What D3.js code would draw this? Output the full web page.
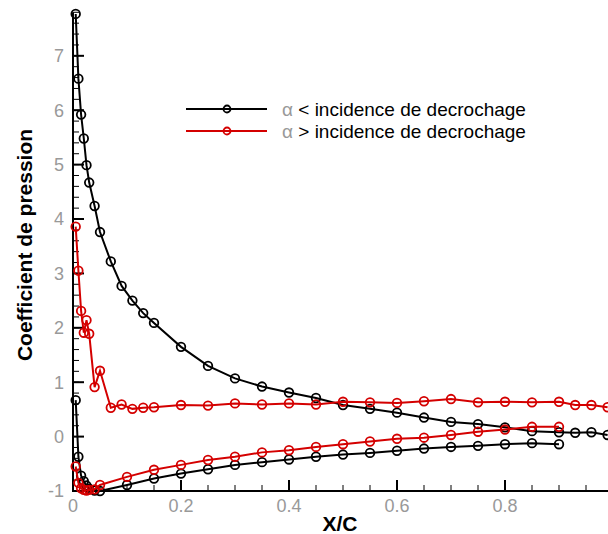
<!DOCTYPE html>
<html>
<head>
<meta charset="utf-8">
<script src="https://cdn.jsdelivr.net/npm/d3@7"></script>
<style>
  body { margin: 0; background: #fff; }
  svg { display: block; }
  .tick-label { font-family: "Liberation Sans", Arial, sans-serif; font-size: 18px; fill: #999; }
  .axis-title { font-family: "Liberation Sans", Arial, sans-serif; font-size: 21px; font-weight: bold; fill: #000; }
  .legend-text { font-family: "Liberation Sans", Arial, sans-serif; font-size: 19px; fill: #000; }
</style>
</head>
<body>
<div id="chart"></div>
<script>
var width = 608, height = 534;

// abscisses des points (extrados / intrados)
var xUpper = [0.005, 0.01, 0.015, 0.02, 0.025, 0.03, 0.04, 0.05, 0.07, 0.09, 0.11, 0.13, 0.15,
    0.2, 0.25, 0.3, 0.35, 0.4, 0.45, 0.5, 0.55, 0.6, 0.65, 0.7, 0.75, 0.8, 0.85, 0.9, 0.93, 0.96, 0.99];
var xLower = [0.005, 0.01, 0.015, 0.02, 0.025, 0.03, 0.04, 0.05, 0.1, 0.15,
    0.2, 0.25, 0.3, 0.35, 0.4, 0.45, 0.5, 0.55, 0.6, 0.65, 0.7, 0.75, 0.8, 0.85, 0.9];

// alpha < incidence de decrochage
var cpBelowUpper = [7.77, 6.58, 5.92, 5.48, 4.99, 4.67, 4.24, 3.76, 3.22, 2.77, 2.50, 2.27, 2.09,
    1.65, 1.30, 1.07, 0.92, 0.81, 0.71, 0.58, 0.51, 0.44, 0.35, 0.27, 0.23, 0.17, 0.10, 0.08, 0.07, 0.08, 0.03];
var cpBelowLower = [0.67, -0.37, -0.72, -0.82, -0.90, -0.96, -0.99, -1.0, -0.89, -0.77,
    -0.68, -0.60, -0.52, -0.47, -0.42, -0.37, -0.33, -0.30, -0.26, -0.22, -0.19, -0.17, -0.14, -0.12, -0.14];

// alpha > incidence de decrochage
var cpAboveUpper = [3.86, 3.05, 2.31, 1.91, 2.14, 1.89, 0.91, 1.21, 0.53, 0.59, 0.51, 0.53, 0.54,
    0.58, 0.57, 0.61, 0.59, 0.61, 0.59, 0.64, 0.63, 0.62, 0.65, 0.69, 0.63, 0.64, 0.63, 0.64, 0.58, 0.58, 0.54];
var cpAboveLower = [-0.55, -0.85, -0.95, -0.98, -0.99, -0.98, -0.97, -0.89, -0.74, -0.61,
    -0.52, -0.43, -0.37, -0.29, -0.25, -0.19, -0.14, -0.09, -0.04, -0.02, 0.03, 0.09, 0.13, 0.18, 0.18];

var xTicks = [0, 0.2, 0.4, 0.6, 0.8];
var yTicks = [-1, 0, 1, 2, 3, 4, 5, 6, 7];
var legendLabels = ["< incidence de decrochage", "> incidence de decrochage"];
var seriesColors = ["#000000", "#d40000"];

var x = d3.scaleLinear().domain([0, 1]).range([73, 613]);
var y = d3.scaleLinear().domain([-1, 7.8]).range([491, 12.3]);

var svg = d3.select("#chart")
    .append("svg")
    .attr("width", width)
    .attr("height", height);

// axes : ticks vers l'interieur, mineurs tous les 0.05 / 0.2
var xMinor = d3.range(0, 1.001, 0.05);
var yMinor = d3.range(-1, 7.81, 0.2);

svg.selectAll("line.xminor")
    .data(xMinor)
    .enter().append("line")
    .attr("x1", function (d) { return x(d); })
    .attr("x2", function (d) { return x(d); })
    .attr("y1", y(-1))
    .attr("y2", y(-1) - 6)
    .attr("stroke", "#000")
    .attr("stroke-width", 1);

svg.selectAll("line.xmajor")
    .data(xTicks)
    .enter().append("line")
    .attr("x1", function (d) { return x(d); })
    .attr("x2", function (d) { return x(d); })
    .attr("y1", y(-1))
    .attr("y2", y(-1) - 11)
    .attr("stroke", "#000")
    .attr("stroke-width", 2);

svg.selectAll("line.yminor")
    .data(yMinor)
    .enter().append("line")
    .attr("x1", x(0))
    .attr("x2", x(0) + 6)
    .attr("y1", function (d) { return y(d); })
    .attr("y2", function (d) { return y(d); })
    .attr("stroke", "#000")
    .attr("stroke-width", 1);

svg.selectAll("line.ymajor")
    .data(yTicks)
    .enter().append("line")
    .attr("x1", x(0))
    .attr("x2", x(0) + 11)
    .attr("y1", function (d) { return y(d); })
    .attr("y2", function (d) { return y(d); })
    .attr("stroke", "#000")
    .attr("stroke-width", 2);

svg.append("line")
    .attr("x1", x(0)).attr("x2", x(1))
    .attr("y1", y(-1)).attr("y2", y(-1))
    .attr("stroke", "#000").attr("stroke-width", 2);
svg.append("line")
    .attr("x1", x(0)).attr("x2", x(0))
    .attr("y1", y(-1) + 1).attr("y2", y(7.8))
    .attr("stroke", "#000").attr("stroke-width", 2);

svg.selectAll("text.xlabel")
    .data(xTicks)
    .enter().append("text")
    .attr("class", "tick-label")
    .attr("x", function (d) { return x(d); })
    .attr("y", 512)
    .attr("text-anchor", "middle")
    .text(function (d) { return d; });

svg.selectAll("text.ylabel")
    .data(yTicks)
    .enter().append("text")
    .attr("class", "tick-label")
    .attr("x", 64)
    .attr("y", function (d) { return y(d); })
    .attr("dy", ".36em")
    .attr("text-anchor", "end")
    .text(function (d) { return d; });

svg.append("text").attr("class", "axis-title")
    .attr("x", 340).attr("y", 531)
    .attr("text-anchor", "middle")
    .text("X/C");
svg.append("text").attr("class", "axis-title")
    .attr("transform", "translate(32,245) rotate(-90)")
    .attr("text-anchor", "middle")
    .text("Coefficient de pression");

// courbes
var curves = [
    {xs: xUpper, ys: cpBelowUpper, color: seriesColors[0]},
    {xs: xLower, ys: cpBelowLower, color: seriesColors[0]},
    {xs: xUpper, ys: cpAboveUpper, color: seriesColors[1]},
    {xs: xLower, ys: cpAboveLower, color: seriesColors[1]}
];

var line = d3.line()
    .x(function (d) { return x(d[0]); })
    .y(function (d) { return y(d[1]); });

curves.forEach(function (c) {
    var pts = d3.zip(c.xs, c.ys);
    svg.append("path")
        .datum(pts)
        .attr("d", line)
        .attr("fill", "none")
        .attr("stroke", c.color)
        .attr("stroke-width", 2);
    svg.selectAll(null)
        .data(pts)
        .enter().append("circle")
        .attr("cx", function (d) { return x(d[0]); })
        .attr("cy", function (d) { return y(d[1]); })
        .attr("r", 4.3)
        .attr("fill", "none")
        .attr("stroke", c.color)
        .attr("stroke-width", 1.8);
});

// legende
var legend = svg.selectAll("g.legend")
    .data(legendLabels)
    .enter().append("g")
    .attr("transform", function (d, i) { return "translate(0," + (109 + i * 22) + ")"; });

legend.append("line")
    .attr("x1", 186).attr("x2", 267)
    .attr("stroke", function (d, i) { return seriesColors[i]; })
    .attr("stroke-width", 2);
legend.append("circle")
    .attr("cx", 227).attr("r", 3.5)
    .attr("fill", "none")
    .attr("stroke", function (d, i) { return seriesColors[i]; })
    .attr("stroke-width", 1.8);
var lt = legend.append("text")
    .attr("class", "legend-text")
    .attr("x", 282)
    .attr("dy", ".36em");
lt.append("tspan").attr("fill", "#999").text("α");
lt.append("tspan").text(function (d) { return " " + d; });
</script>
</body>
</html>
